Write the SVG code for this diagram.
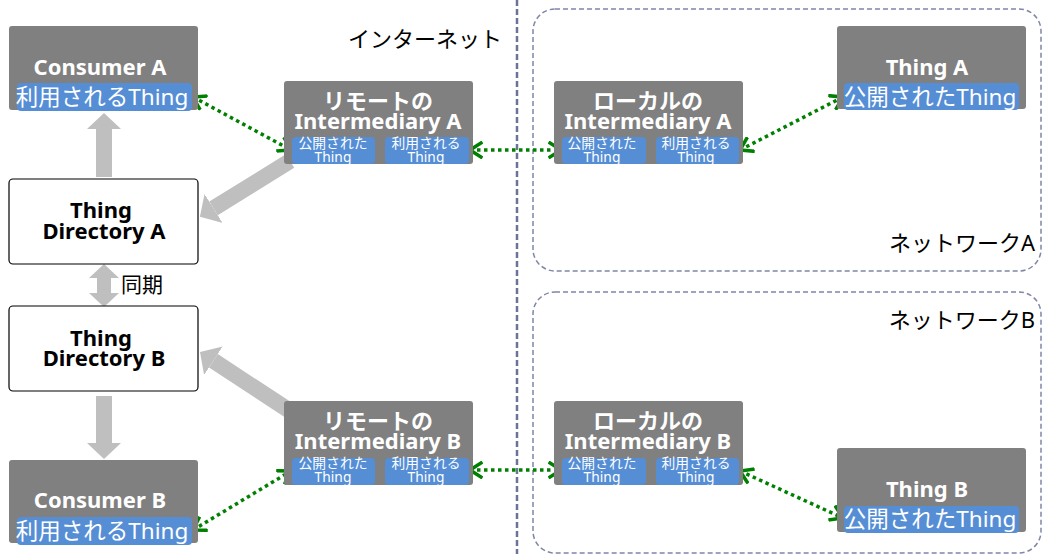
<svg xmlns="http://www.w3.org/2000/svg" width="1042" height="554" viewBox="0 0 1042 554">
<style>
text{font-family:"Noto Sans","Noto Sans CJK JP","Liberation Sans",sans-serif;dominant-baseline:central;text-anchor:middle}
.gbox{fill:#808080;stroke:none}
.bbox{fill:#558ed5;stroke:none}
.wbox{fill:#ffffff;stroke:#000000;stroke-width:1.2}
.wt{fill:#ffffff;font-weight:bold;font-size:22px}
.bt{fill:#000000;font-weight:bold;font-size:22px}
.lt{fill:#ffffff;font-size:22.5px}
.st{fill:#ffffff;font-size:13.8px}
.nl{fill:#000000;font-size:22px}
.net{fill:none;stroke:#7f86a8;stroke-width:1.5;stroke-dasharray:5 3}
.sep{fill:none;stroke:#6a7398;stroke-width:2.5;stroke-dasharray:6 3}
.blk{stroke:#bfbfbf;stroke-width:16;fill:none}
.syn{stroke:#bfbfbf;stroke-width:14;fill:none}
.gc{stroke:#008000;stroke-width:3.5;stroke-dasharray:3.5 3.5;fill:none;marker-start:url(#ch);marker-end:url(#ch)}
</style>
<defs>
<marker id="bh" markerUnits="userSpaceOnUse" markerWidth="17" markerHeight="34" refX="0" refY="17" orient="auto" viewBox="0 0 17 34"><path d="M0,0 L16,17 L0,34 Z" fill="#bfbfbf"/></marker>
<marker id="sh" markerUnits="userSpaceOnUse" markerWidth="15" markerHeight="30" refX="0" refY="15" orient="auto-start-reverse" viewBox="0 0 15 30"><path d="M0,0 L14,15 L0,30 Z" fill="#bfbfbf"/></marker>
<marker id="ch" markerUnits="userSpaceOnUse" markerWidth="16" markerHeight="18" refX="13" refY="9" orient="auto-start-reverse" viewBox="0 0 16 18"><path d="M2,2 L13,9 L2,16" fill="none" stroke="#008000" stroke-width="3.5" stroke-linecap="square"/></marker>
</defs>

<g id="network-a">
<rect class="net" x="533" y="9" width="508" height="262" rx="22"/>
<text class="nl" x="1035" y="242" style="text-anchor:end">ネットワークA</text>
</g>
<g id="network-b">
<rect class="net" x="533" y="292" width="508" height="261" rx="22"/>
<text class="nl" x="1035" y="319" style="text-anchor:end">ネットワークB</text>
</g>
<g id="internet">
<line class="sep" x1="517" y1="0" x2="517" y2="554"/>
<text class="nl" x="425" y="38">インターネット</text>
</g>

<g id="connectors">
<line class="blk" x1="104" y1="177" x2="104" y2="129" marker-end="url(#bh)"/>
<line class="syn" x1="104" y1="278" x2="104" y2="293" marker-start="url(#sh)" marker-end="url(#sh)"/>
<line class="blk" x1="104" y1="396" x2="104" y2="443" marker-end="url(#bh)"/>
<line class="blk" x1="290" y1="161" x2="213.5" y2="208.4" marker-end="url(#bh)"/>
<line class="blk" x1="290" y1="411" x2="213.4" y2="360.8" marker-end="url(#bh)"/>
<line class="gc" x1="193" y1="97" x2="291" y2="150"/>
<line class="gc" x1="470" y1="150" x2="561" y2="150"/>
<line class="gc" x1="740" y1="150" x2="843" y2="97"/>
<line class="gc" x1="193" y1="530" x2="291" y2="471"/>
<line class="gc" x1="470" y1="470" x2="561" y2="470"/>
<line class="gc" x1="740" y1="471" x2="843" y2="518"/>
<text class="nl" x="121" y="284" style="text-anchor:start;font-size:21px">同期</text>
</g>

<g id="consumer-a">
<rect class="gbox" x="9" y="26" width="189" height="84" rx="3"/>
<rect class="bbox" x="17" y="83" width="175" height="28" rx="4"/>
<text class="wt" x="100" y="65.5">Consumer A</text>
<text class="lt" x="102" y="96">利用されるThing</text>
</g>
<g id="directory-a">
<rect class="wbox" x="9" y="179" width="189" height="85" rx="4"/>
<text class="bt" x="101" y="209">Thing</text>
<text class="bt" x="104" y="230">Directory A</text>
</g>
<g id="directory-b">
<rect class="wbox" x="9" y="306" width="189" height="85" rx="4"/>
<text class="bt" x="101" y="337">Thing</text>
<text class="bt" x="104" y="357">Directory B</text>
</g>
<g id="consumer-b">
<rect class="gbox" x="9" y="460" width="189" height="83" rx="3"/>
<rect class="bbox" x="17" y="517" width="175" height="28" rx="4"/>
<text class="wt" x="100" y="499">Consumer B</text>
<text class="lt" x="102" y="530">利用されるThing</text>
</g>

<g id="remote-intermediary-a">
<rect class="gbox" x="284" y="81" width="189" height="83" rx="3"/>
<rect class="bbox" x="292" y="137" width="83" height="27" rx="4"/>
<rect class="bbox" x="385" y="137" width="84" height="27" rx="4"/>
<text class="wt" x="378" y="100">リモートの</text>
<text class="wt" x="378" y="120">Intermediary A</text>
<text class="st" x="333" y="142">公開された</text>
<text class="st" x="333" y="156">Thing</text>
<text class="st" x="426" y="142">利用される</text>
<text class="st" x="426" y="156">Thing</text>
</g>
<g id="local-intermediary-a">
<rect class="gbox" x="554" y="81" width="189" height="83" rx="3"/>
<rect class="bbox" x="562" y="137" width="84" height="27" rx="4"/>
<rect class="bbox" x="656" y="137" width="83" height="27" rx="4"/>
<text class="wt" x="648" y="100">ローカルの</text>
<text class="wt" x="648" y="120">Intermediary A</text>
<text class="st" x="602" y="142">公開された</text>
<text class="st" x="602" y="156">Thing</text>
<text class="st" x="696" y="142">利用される</text>
<text class="st" x="696" y="156">Thing</text>
</g>
<g id="thing-a">
<rect class="gbox" x="837" y="26" width="189" height="83" rx="3"/>
<rect class="bbox" x="844" y="83" width="175" height="27" rx="4"/>
<text class="wt" x="927" y="65.5">Thing A</text>
<text class="lt" x="930" y="96">公開されたThing</text>
</g>

<g id="remote-intermediary-b">
<rect class="gbox" x="284" y="401" width="189" height="84" rx="3"/>
<rect class="bbox" x="292" y="458" width="83" height="27" rx="4"/>
<rect class="bbox" x="385" y="458" width="84" height="27" rx="4"/>
<text class="wt" x="378" y="420">リモートの</text>
<text class="wt" x="378" y="440">Intermediary B</text>
<text class="st" x="333" y="462.5">公開された</text>
<text class="st" x="333" y="476.5">Thing</text>
<text class="st" x="426" y="462.5">利用される</text>
<text class="st" x="426" y="476.5">Thing</text>
</g>
<g id="local-intermediary-b">
<rect class="gbox" x="554" y="401" width="189" height="84" rx="3"/>
<rect class="bbox" x="562" y="458" width="84" height="27" rx="4"/>
<rect class="bbox" x="656" y="458" width="83" height="27" rx="4"/>
<text class="wt" x="648" y="420">ローカルの</text>
<text class="wt" x="648" y="440">Intermediary B</text>
<text class="st" x="602" y="462.5">公開された</text>
<text class="st" x="602" y="476.5">Thing</text>
<text class="st" x="696" y="462.5">利用される</text>
<text class="st" x="696" y="476.5">Thing</text>
</g>
<g id="thing-b">
<rect class="gbox" x="837" y="448" width="189" height="84" rx="3"/>
<rect class="bbox" x="844" y="506" width="175" height="27" rx="4"/>
<text class="wt" x="927" y="488">Thing B</text>
<text class="lt" x="930" y="518">公開されたThing</text>
</g>
</svg>
